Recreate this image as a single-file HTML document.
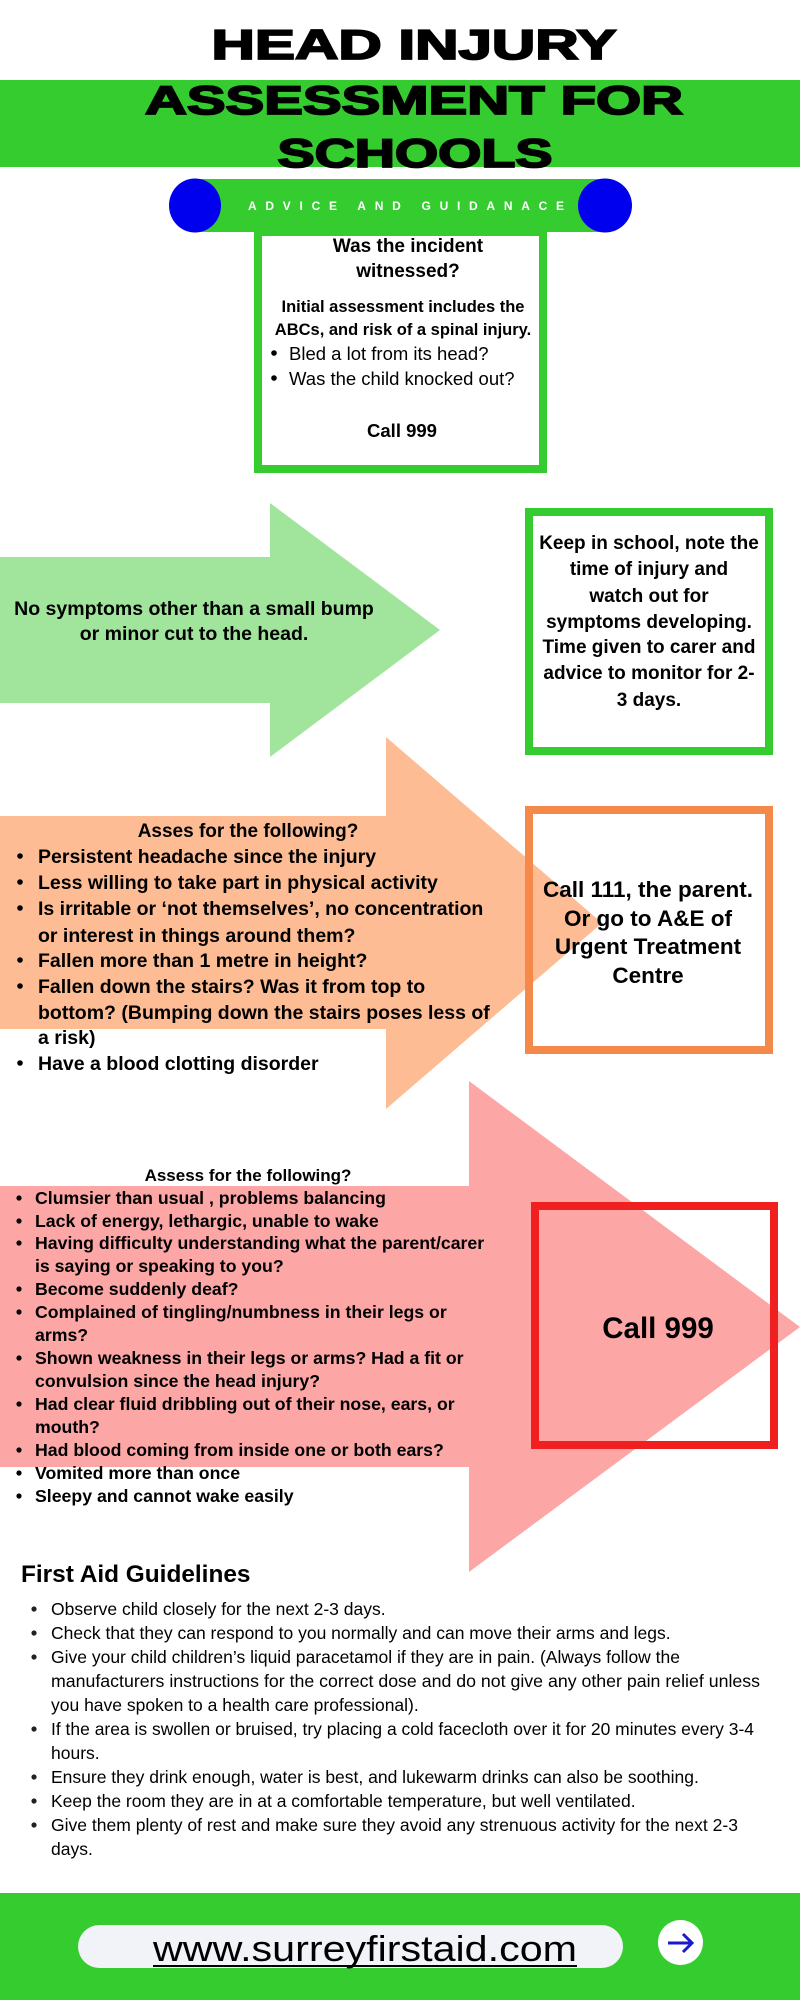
<!DOCTYPE html>
<html><head><meta charset="utf-8"><style>
html,body{margin:0;padding:0;background:#fff;}
svg{display:block;}
text{font-family:"Liberation Sans",sans-serif;fill:#000;}
.b{font-weight:bold;}
</style></head><body>
<svg width="800" height="2000" viewBox="0 0 800 2000" xmlns="http://www.w3.org/2000/svg">
<rect x="0" y="80" width="800" height="87" fill="#35cc2f"/>
<text x="414" y="59" text-anchor="middle" class="b" font-size="42" textLength="405" lengthAdjust="spacingAndGlyphs" stroke="#000" stroke-width="1.8">HEAD INJURY</text>
<text x="414" y="114" text-anchor="middle" class="b" font-size="40" textLength="538" lengthAdjust="spacingAndGlyphs" stroke="#000" stroke-width="1.8">ASSESSMENT FOR</text>
<text x="415" y="167" text-anchor="middle" class="b" font-size="40" textLength="275" lengthAdjust="spacingAndGlyphs" stroke="#000" stroke-width="1.8">SCHOOLS</text>
<rect x="195" y="179" width="410" height="53" fill="#35cc2f"/>
<ellipse cx="195" cy="205.5" rx="26" ry="27" fill="#0000ee"/>
<ellipse cx="605" cy="205.5" rx="27" ry="27" fill="#0000ee"/>
<text x="406" y="210" text-anchor="middle" class="b" font-size="12" style="fill:#fff" textLength="316" lengthAdjust="spacing">ADVICE AND GUIDANACE</text>
<rect x="258" y="232" width="285" height="237" fill="none" stroke="#35cc2f" stroke-width="8"/>
<text x="408" y="252" text-anchor="middle" class="b" font-size="19">Was the incident</text>
<text x="408" y="277" text-anchor="middle" class="b" font-size="19">witnessed?</text>
<text x="403" y="312" text-anchor="middle" class="b" font-size="16.5">Initial assessment includes the</text>
<text x="403" y="335" text-anchor="middle" class="b" font-size="16.5">ABCs, and risk of a spinal injury.</text>
<circle cx="274" cy="353" r="2.8"/><text x="289" y="360" font-size="18.5" fill="#222">Bled a lot from its head?</text>
<circle cx="274" cy="378" r="2.8"/><text x="289" y="385" font-size="18.5" fill="#222">Was the child knocked out?</text>
<text x="402" y="437" text-anchor="middle" class="b" font-size="18.5">Call 999</text>

<polygon points="0,557 270,557 270,503 440,630 270,757 270,703 0,703" fill="#a1e59d"/>
<text x="194" y="615" text-anchor="middle" class="b" font-size="19.5">No symptoms other than a small bump</text>
<text x="194" y="640" text-anchor="middle" class="b" font-size="19.5">or minor cut to the head.</text>
<rect x="529" y="512" width="240" height="239" fill="none" stroke="#35cc2f" stroke-width="8"/>
<g class="b" font-size="19" text-anchor="middle">
<text x="649" y="549">Keep in school, note the</text>
<text x="649" y="575">time of injury and</text>
<text x="649" y="602">watch out for</text>
<text x="649" y="628">symptoms developing.</text>
<text x="649" y="653">Time given to carer and</text>
<text x="649" y="679">advice to monitor for 2-</text>
<text x="649" y="706">3 days.</text>
</g>

<polygon points="0,816 386,816 386,737 602,923 386,1109 386,1029 0,1029" fill="#fdbc94"/>
<rect x="529" y="810" width="240" height="240" fill="none" stroke="#f4894a" stroke-width="8"/>
<g class="b" font-size="19.5">
<text x="248" y="837" text-anchor="middle" font-size="19">Asses for the following?</text>
<circle cx="20" cy="856" r="2.8"/><text x="38" y="863">Persistent headache since the injury</text>
<circle cx="20" cy="882" r="2.8"/><text x="38" y="889">Less willing to take part in physical activity</text>
<circle cx="20" cy="908" r="2.8"/><text x="38" y="915">Is irritable or ‘not themselves’, no concentration</text>
<text x="38" y="942">or interest in things around them?</text>
<circle cx="20" cy="960" r="2.8"/><text x="38" y="967">Fallen more than 1 metre in height?</text>
<circle cx="20" cy="986" r="2.8"/><text x="38" y="993">Fallen down the stairs? Was it from top to</text>
<text x="38" y="1019">bottom? (Bumping down the stairs poses less of</text>
<text x="38" y="1044">a risk)</text>
<circle cx="20" cy="1063" r="2.8"/><text x="38" y="1070">Have a blood clotting disorder</text>
</g>
<g class="b" font-size="22.5" text-anchor="middle">
<text x="648" y="897">Call 111, the parent.</text>
<text x="648" y="926">Or go to A&amp;E of</text>
<text x="648" y="954">Urgent Treatment</text>
<text x="648" y="983">Centre</text>
</g>

<polygon points="0,1186 469,1186 469,1081 800,1327 469,1572 469,1467 0,1467" fill="#fda6a6"/>
<rect x="535" y="1206" width="239" height="239" fill="none" stroke="#f02020" stroke-width="8"/>
<text x="658" y="1338" text-anchor="middle" class="b" font-size="29.5">Call 999</text>
<g class="b" font-size="17.7">
<text x="248" y="1181" text-anchor="middle" font-size="17">Assess for the following?</text>
<circle cx="19" cy="1198" r="2.6"/><text x="35" y="1204">Clumsier than usual , problems balancing</text>
<circle cx="19" cy="1221" r="2.6"/><text x="35" y="1227">Lack of energy, lethargic, unable to wake</text>
<circle cx="19" cy="1243" r="2.6"/><text x="35" y="1249">Having difficulty understanding what the parent/carer</text>
<text x="35" y="1272">is saying or speaking to you?</text>
<circle cx="19" cy="1289" r="2.6"/><text x="35" y="1295">Become suddenly deaf?</text>
<circle cx="19" cy="1312" r="2.6"/><text x="35" y="1318">Complained of tingling/numbness in their legs or</text>
<text x="35" y="1341">arms?</text>
<circle cx="19" cy="1358" r="2.6"/><text x="35" y="1364">Shown weakness in their legs or arms?  Had a fit or</text>
<text x="35" y="1387">convulsion since the head injury?</text>
<circle cx="19" cy="1404" r="2.6"/><text x="35" y="1410">Had clear fluid dribbling out of their nose, ears, or</text>
<text x="35" y="1433">mouth?</text>
<circle cx="19" cy="1450" r="2.6"/><text x="35" y="1456">Had blood coming from inside one or both ears?</text>
<circle cx="19" cy="1473" r="2.6"/><text x="35" y="1479">Vomited more than once</text>
<circle cx="19" cy="1496" r="2.6"/><text x="35" y="1502">Sleepy and cannot wake easily</text>
</g>

<text x="21" y="1582" class="b" font-size="24.4">First Aid Guidelines</text>
<g font-size="17.5" fill="#222">
<circle cx="34" cy="1609" r="2.6"/><text x="51" y="1615">Observe child closely for the next 2-3 days.</text>
<circle cx="34" cy="1633" r="2.6"/><text x="51" y="1639">Check that they can respond to you normally and can move their arms and legs.</text>
<circle cx="34" cy="1657" r="2.6"/><text x="51" y="1663">Give your child children’s liquid paracetamol if they are in pain. (Always follow the</text>
<text x="51" y="1687" textLength="709" lengthAdjust="spacingAndGlyphs">manufacturers instructions for the correct dose and do not give any other pain relief unless</text>
<text x="51" y="1711">you have spoken to a health care professional).</text>
<circle cx="34" cy="1729" r="2.6"/><text x="51" y="1735" textLength="703" lengthAdjust="spacingAndGlyphs">If the area is swollen or bruised, try placing a cold facecloth over it for 20 minutes every 3-4</text>
<text x="51" y="1759">hours.</text>
<circle cx="34" cy="1777" r="2.6"/><text x="51" y="1783">Ensure they drink enough, water is best, and lukewarm drinks can also be soothing.</text>
<circle cx="34" cy="1801" r="2.6"/><text x="51" y="1807">Keep the room they are in at a comfortable temperature, but well ventilated.</text>
<circle cx="34" cy="1825" r="2.6"/><text x="51" y="1831" textLength="687" lengthAdjust="spacingAndGlyphs">Give them plenty of rest and make sure they avoid any strenuous activity for the next 2-3</text>
<text x="51" y="1855">days.</text>
</g>

<rect x="0" y="1893" width="800" height="107" fill="#35cc2f"/>
<rect x="78" y="1925" width="545" height="43" rx="21.5" fill="#f1f3f8"/>
<text x="365" y="1961" text-anchor="middle" font-size="36" textLength="424" lengthAdjust="spacingAndGlyphs">www.surreyfirstaid.com </text>
<line x1="153" y1="1966" x2="577" y2="1966" stroke="#000" stroke-width="2"/>
<ellipse cx="680.5" cy="1942.5" rx="22.5" ry="22.5" fill="#fff"/>
<line x1="668" y1="1943" x2="692" y2="1943" stroke="#1a1acc" stroke-width="3"/>
<polyline points="683,1934 692,1943 683,1952" fill="none" stroke="#1a1acc" stroke-width="3"/>
</svg>
</body></html>
